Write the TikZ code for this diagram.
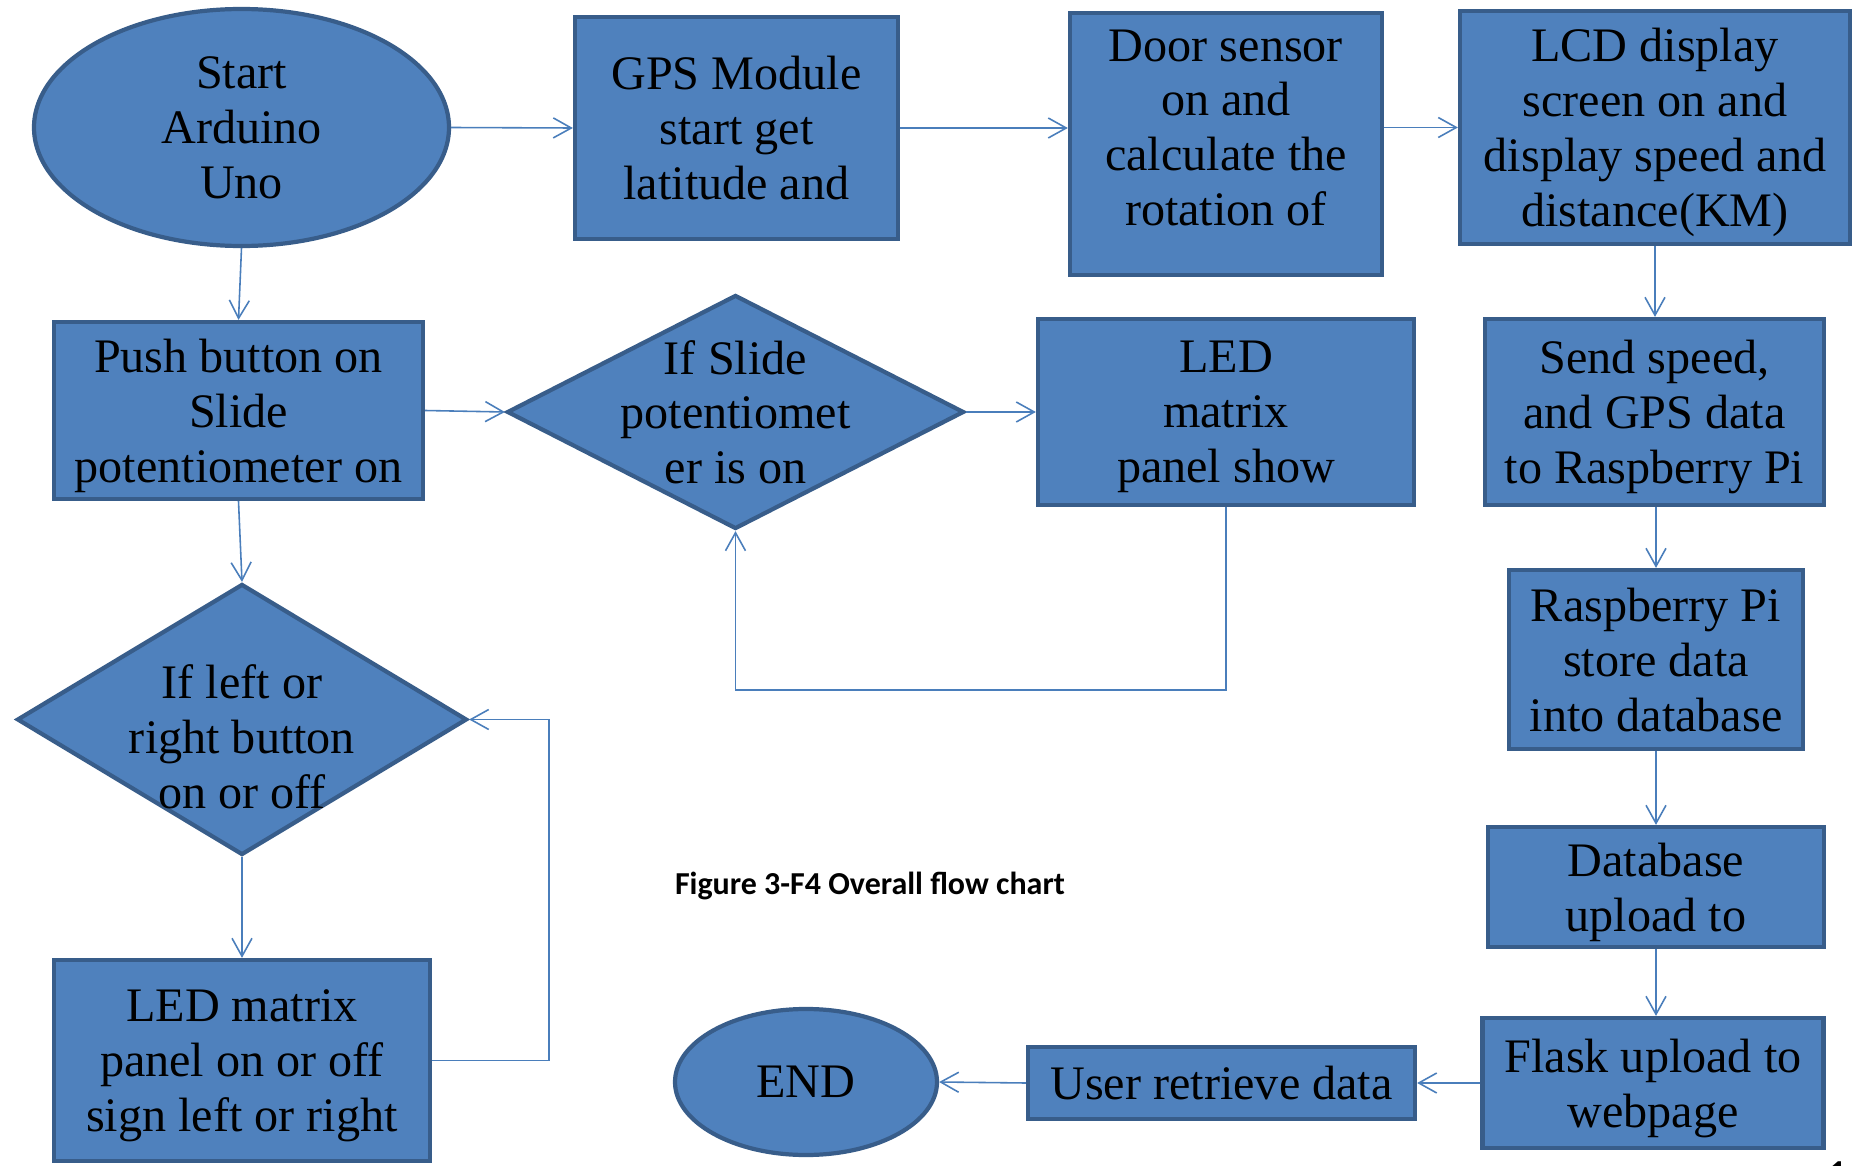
\documentclass[tikz,border=0pt]{standalone}
\usepackage{fontspec}
\setmainfont{Liberation Serif}
\newfontfamily\captfont{Carlito}
\usetikzlibrary{arrows.meta,shapes.geometric}
\definecolor{boxfill}{RGB}{79,129,189}
\definecolor{boxedge}{RGB}{56,93,138}
\definecolor{flowline}{RGB}{74,126,187}
\newcommand{\boxfont}{\fontsize{13.7}{15.6}\selectfont}
\tikzset{
  blk/.style={draw=boxedge, fill=boxfill, line width=1.2pt, inner sep=2pt, align=center, font=\boxfont, text depth=0pt},
  term/.style={blk, ellipse},
  dec/.style={draw=boxedge, fill=boxfill, line width=1.2pt, diamond, inner sep=0pt},
  txt/.style={align=center, font=\boxfont, inner sep=0pt, text depth=0pt},
  flw/.style={-{Straight Barb[length=1.8mm, width=2mm]}, flowline, line width=0.45pt},
  capt/.style={font=\captfont\bfseries\fontsize{9.1}{10}\selectfont, inner sep=0pt},
}

\begin{document}
\begin{tikzpicture}
\useasboundingbox (0,0) rectangle (18.52,11.65);
%---- top row
\node[term, minimum width=4.15cm, minimum height=2.37cm] (start) at (2.415,10.375) {Start\\Arduino\\Uno};
\node[blk, minimum width=3.23cm, minimum height=2.22cm] (gps) at (7.365,10.37) {GPS Module\\start get\\latitude and};
\node[blk, minimum width=3.12cm, minimum height=2.62cm, text depth=0.33cm] (door) at (12.26,10.21) {Door sensor\\on and\\calculate the\\rotation of};
\node[blk, minimum width=3.90cm, minimum height=2.33cm] (lcd) at (16.55,10.375) {LCD display\\screen on and\\display speed and\\distance(KM)};
%---- second row
\node[blk, minimum width=3.69cm, minimum height=1.77cm] (push) at (2.385,7.545) {Push button on\\Slide\\potentiometer on};
\node[dec, minimum width=4.57cm, minimum height=2.34cm] (slide) at (7.355,7.53) {};
\node[txt] (slidetxt) at (slide) {If Slide\\potentiomet\\er is on};
\node[blk, minimum width=3.76cm, minimum height=1.86cm] (ledshow) at (12.26,7.53) {LED\\matrix\\panel show};
\node[blk, minimum width=3.39cm, minimum height=1.86cm] (send) at (16.545,7.53) {Send speed,\\and GPS data\\to Raspberry Pi};
%---- left column
\node[dec, minimum width=4.50cm, minimum height=2.71cm] (lr) at (2.42,4.455) {};
\node[txt] (lrtxt) at ([yshift=-0.17cm]lr.center) {If left or\\right button\\on or off};
\node[blk, minimum width=3.76cm, minimum height=2.01cm] (ledpanel) at (2.42,1.045) {LED matrix\\panel on or off\\sign left or right};
%---- right column
\node[blk, minimum width=2.94cm, minimum height=1.79cm] (rpi) at (16.56,5.055) {Raspberry Pi\\store data\\into database};
\node[blk, minimum width=3.36cm, minimum height=1.20cm] (db) at (16.56,2.78) {Database\\upload to};
\node[blk, minimum width=3.41cm, minimum height=1.30cm] (flask) at (16.53,0.82) {Flask upload to\\webpage};
\node[blk, minimum width=3.87cm, minimum height=0.72cm] (user) at (12.215,0.82) {User retrieve data};
\node[term, minimum width=2.62cm, minimum height=1.46cm] (end) at (8.06,0.83) {END};
%---- caption
\node[capt, anchor=base] (caption) at (8.70,2.71) {Figure 3-F4 Overall flow chart};
\node[capt, anchor=north west] (pagenum) at (18.29,0.04) {14};
%---- connectors
\draw[flw] (start.east) -- (gps.west);
\draw[flw] (gps.east) -- (gps.east -| door.west);
\draw[flw] (lcd.west -| door.east) -- (lcd.west);
\draw[flw] (start.south) -- (push.north);
\draw[flw] (push.east) -- (slide.west);
\draw[flw] (slide.east) -- (ledshow.west);
\draw[flw] (ledshow.south) -- ++(0,-1.83) -| (slide.south);
\draw[flw] (lcd.south) -- (lcd.south |- send.north);
\draw[flw] (rpi.north |- send.south) -- (rpi.north);
\draw[flw] (rpi.south) -- (db.north);
\draw[flw] (db.south) -- (db.south |- flask.north);
\draw[flw] (flask.west) -- (user.east);
\draw[flw] (user.west) -- (end.east);
\draw[flw] (push.south) -- (lr.north);
\draw[flw] (lr.south) -- (ledpanel.north);
\draw[flw] (ledpanel.east) -- ++(1.17,0) |- (lr.east);
\end{tikzpicture}
\end{document}
